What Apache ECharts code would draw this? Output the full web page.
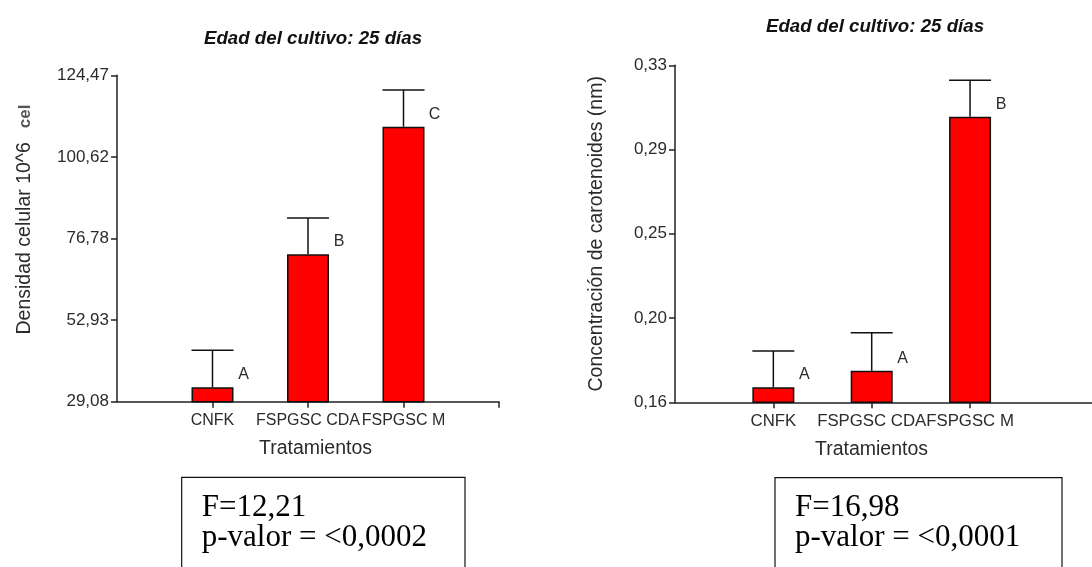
<!DOCTYPE html>
<html>
<head>
<meta charset="utf-8">
<script src="https://cdn.jsdelivr.net/npm/echarts@6/dist/echarts.min.js"></script>
<style>
  html, body { margin: 0; padding: 0; background: #fff; }
  #chart { width: 1092px; height: 567px; }
</style>
</head>
<body>
<div id="chart"></div>
<script>
var tratamientos = ['CNFK', 'FSPGSC CDA', 'FSPGSC M']

// Densidad celular (10^6 cel)
var densidad = [33.3, 72.15, 109.44]
var densidadError = [44.1, 82.76, 120.17]
var letrasDensidad = ['A', 'B', 'C']
var ticksDensidad = [29.08, 52.9275, 76.775, 100.6225, 124.47]
var etiquetasDensidad = ['29,08', '52,93', '76,78', '100,62', '124,47']

// Concentración de carotenoides (nm)
var carotenoides = [0.1676, 0.1759, 0.3041]
var carotenoidesError = [0.1859, 0.1951, 0.3225]
var letrasCarot = ['A', 'A', 'B']
var ticksCarot = [0.16, 0.2025, 0.245, 0.2875, 0.33]
var etiquetasCarot = ['0,16', '0,20', '0,25', '0,29', '0,33']

var sans = '"Liberation Sans", Arial, sans-serif'
var serif = '"Liberation Serif", "Times New Roman", serif'
var ink = '#2b2b2b'

function etiqueta(ticks, labels) {
    return function(v) {
        for (var i = 0; i < ticks.length; i++) {
            if (Math.abs(ticks[i] - v) < 1e-6 * Math.max(1, Math.abs(v))) return labels[i]
        }
        return ''
    }
}

function puntos(vals) {
    return vals.map(function(v, i) { return [i + 1, v] })
}

function errorBars(vals, tops, idx) {
    return {
        type: 'custom',
        xAxisIndex: idx,
        yAxisIndex: idx,
        z: 3,
        data: vals.map(function(v, i) { return [i + 1, v, tops[i]] }),
        renderItem: function(params, api) {
            var base = api.coord([api.value(0), api.value(1)])
            var top = api.coord([api.value(0), api.value(2)])
            var half = 21
            var st = { stroke: '#111', lineWidth: 1.5 }
            return {
                type: 'group',
                children: [
                    { type: 'line', shape: { x1: base[0], y1: base[1], x2: top[0], y2: top[1] }, style: st },
                    { type: 'line', shape: { x1: top[0] - half, y1: top[1], x2: top[0] + half, y2: top[1] }, style: st }
                ]
            }
        }
    }
}

function barras(vals, letras, idx) {
    return {
        type: 'bar',
        xAxisIndex: idx,
        yAxisIndex: idx,
        barWidth: 42,
        clip: true,
        data: puntos(vals),
        itemStyle: { color: '#ff0000', borderColor: '#111', borderWidth: 1.5 },
        label: {
            show: true,
            position: ['100%', 0],
            offset: [10, -12.5],
            align: 'center',
            verticalAlign: 'middle',
            fontFamily: sans,
            fontSize: 16,
            color: ink,
            formatter: function(p) { return letras[p.dataIndex] }
        }
    }
}

function ejeX(max, ticks, gapPad, labelSize) {
    return {
        type: 'value',
        min: 0,
        max: max,
        name: 'Tratamientos',
        nameLocation: 'middle',
        nameGap: 37,
        nameTextStyle: { fontFamily: sans, fontSize: 19.5, color: ink, padding: gapPad },
        axisLine: { lineStyle: { color: '#222', width: 1.5 } },
        axisTick: { show: true, length: 6, customValues: ticks, lineStyle: { color: '#222', width: 1.5 } },
        axisLabel: {
            customValues: [1, 2, 3],
            hideOverlap: false,
            margin: 11,
            fontFamily: sans,
            fontSize: labelSize,
            color: ink,
            formatter: function(v) { return tratamientos[Math.round(v) - 1] || '' }
        },
        splitLine: { show: false }
    }
}

function ejeY(min, max, ticks, labels, name, gap, pad) {
    return {
        type: 'value',
        min: min,
        max: max,
        name: name,
        nameLocation: 'middle',
        nameGap: gap,
        nameTextStyle: {
            fontFamily: sans, fontSize: 19.5, color: ink, padding: pad,
            rich: { b: { fontFamily: sans, fontSize: 17, fontWeight: 'bold', color: '#555', padding: [0, 0, 0, 14] } }
        },
        axisLine: { show: true, lineStyle: { color: '#222', width: 1.5 } },
        axisTick: { show: true, length: 6, customValues: ticks, lineStyle: { color: '#222', width: 1.5 } },
        axisLabel: {
            customValues: ticks,
            hideOverlap: false,
            margin: 8,
            fontFamily: sans,
            fontSize: 17,
            color: ink,
            formatter: etiqueta(ticks, labels)
        },
        splitLine: { show: false }
    }
}

function cuadro(x, y, w, f, p) {
    return [
        { type: 'rect', shape: { x: x, y: y, width: w, height: 140 }, style: { fill: '#fff', stroke: '#111', lineWidth: 1.2 } },
        { type: 'text', x: x + 20, y: y + 30.5, style: { text: f, font: '31px ' + serif, fill: '#000', verticalAlign: 'middle' } },
        { type: 'text', x: x + 20, y: y + 60.5, style: { text: p, font: '31px ' + serif, fill: '#000', verticalAlign: 'middle' } }
    ]
}

var chart = echarts.init(document.getElementById('chart'))
chart.setOption({
    animation: false,
    backgroundColor: '#fff',
    title: [
        { text: 'Edad del cultivo: 25 días', left: 308, top: 24, textAlign: 'center',
          textStyle: { fontFamily: sans, fontSize: 18.7, fontWeight: 'bold', fontStyle: 'italic', color: '#111' } },
        { text: 'Edad del cultivo: 25 días', left: 870, top: 12, textAlign: 'center',
          textStyle: { fontFamily: sans, fontSize: 18.7, fontWeight: 'bold', fontStyle: 'italic', color: '#111' } }
    ],
    grid: [
        { left: 117, top: 75.3, width: 382, height: 326.4 },
        { left: 675, top: 65.3, width: 417, height: 337 }
    ],
    xAxis: [
        ejeX(4, [1, 2, 3, 4], [0, 0, 0, 15], 16),
        Object.assign(ejeX(4.24, [1, 2, 3], [0, 24, 0, 0], 16.8), { gridIndex: 1 })
    ],
    yAxis: [
        ejeY(29.08, 124.47, ticksDensidad, etiquetasDensidad, 'Densidad celular 10^6{b|cel}', 82, [0, 0, 0, 38]),
        Object.assign(ejeY(0.16, 0.33, ticksCarot, etiquetasCarot, 'Concentración de carotenoides (nm)', 68, 0), { gridIndex: 1 })
    ],
    series: [
        barras(densidad, letrasDensidad, 0),
        errorBars(densidad, densidadError, 0),
        barras(carotenoides, letrasCarot, 1),
        errorBars(carotenoides, carotenoidesError, 1)
    ],
    graphic: cuadro(181.7, 477.3, 283.3, 'F=12,21', 'p-valor = <0,0002')
        .concat(cuadro(775, 477.7, 287, 'F=16,98', 'p-valor = <0,0001'))
})
</script>
</body>
</html>
